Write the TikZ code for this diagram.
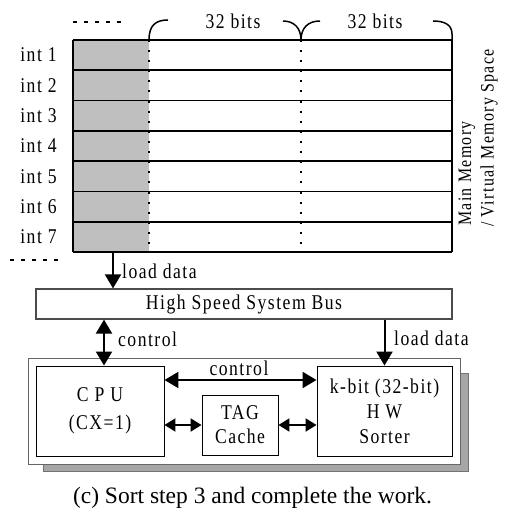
\documentclass[tikz,border=0pt]{standalone}
\usepackage{fontspec}
\setmainfont{Liberation Serif}
\newfontfamily\dfont[FakeStretch=0.84,LetterSpace=7]{Liberation Serif}
\usetikzlibrary{arrows.meta,calc}

\begin{document}
\begin{tikzpicture}[x=1pt,y=-1pt,
  lbl/.style={font=\dfont\fontsize{21}{25}\selectfont, inner sep=0pt},
  vlbl/.style={font=\dfont\fontsize{19}{22}\selectfont, inner sep=0pt, rotate=90, anchor=west},
  box/.style={draw=black, line width=0.9pt, fill=white, align=center, inner sep=0pt,
              font=\dfont\fontsize{21}{25}\selectfont},
  rowline/.style={line width=1.8pt},
  dotline/.style={line width=2pt, dash pattern=on 2pt off 8.1pt},
  brace/.style={line width=1.5pt},
  dashrow/.style={line width=1.2pt, dash pattern=on 4pt off 7pt},
  bigarr/.style={line width=2pt, -{Triangle[length=14pt,width=16pt]}},
  dblarr/.style={line width=2pt, {Triangle[length=14pt,width=16pt]}-{Triangle[length=14pt,width=16pt]}},
  smallarr/.style={line width=2pt, {Triangle[length=11pt,width=13pt]}-{Triangle[length=11pt,width=13pt]}},
]
\useasboundingbox (0,0) rectangle (504,508);

% ---------- memory array ----------
\node[minimum width=379pt, minimum height=212pt, inner sep=0pt, outer sep=0pt] (mem) at (262.5,146) {};
\fill[black!25] (mem.north west) rectangle (149,252);
\foreach \k in {0,...,7}
  \draw[rowline] (73,{40+30.286*\k}) -- (452,{40+30.286*\k});
\draw[rowline] (mem.north west) -- (mem.south west);
\draw[rowline] (mem.north east) -- (mem.south east);
\draw[dotline] (149,40) -- (149,252);
\draw[dotline] (301,40) -- (301,252);

\foreach \i in {1,...,7}
  \node[lbl] (int\i) at (38.5,{40+30.286*(\i-0.5)}) {int \i};

\draw[dashrow] (73,22) -- (121,22);
\draw[dashrow] (10,260) -- (58,260);

% word-width braces
\draw[brace] (149,40) .. controls (149,25) and (156,20) .. (168,20);
\draw[brace] (283,21) .. controls (294,21) and (301,28) .. (301,40);
\draw[brace] (301,40) .. controls (301,28) and (308,21) .. (320,21);
\draw[brace] (433,21) .. controls (445,21) and (452,25) .. (452,34) -- (452,40);
\node[lbl] (w1) at (233,21) {32 bits};
\node[lbl] (w2) at (375,21) {32 bits};

\node[vlbl] (mm1) at (467,226) {Main Memory};
\node[vlbl] (mm2) at (489,227) {/ Virtual Memory Space};

% ---------- bus ----------
\node[box, draw=black!70, line width=1.2pt, minimum width=416pt, minimum height=30pt] (bus) at (244,304) {High Speed System Bus};

% ---------- processing module ----------
\fill[black!35] (43,373) rectangle (468,471);
\draw[black!55, line width=0.8pt] (43,373) rectangle (468,471);
\node[draw=black!60, line width=1pt, fill=white, minimum width=432pt, minimum height=106pt, inner sep=0pt] (sys) at (244,411) {};

\node[box, minimum width=128pt, minimum height=90pt, font=\dfont\fontsize{21}{28}\selectfont] (cpu) at (100,411) {C P U\\(CX=1)};
\node[box, minimum width=76pt, minimum height=60pt, font=\dfont\fontsize{21}{24}\selectfont] (tag) at (240,425) {TAG\\Cache};
\node[box, minimum width=135pt, minimum height=90pt, font=\dfont\fontsize{21}{25}\selectfont] (sorter) at (384.5,411) {k-bit (32-bit)\\H W\\Sorter};

% ---------- connectors ----------
\coordinate (lx) at (113,0);
\coordinate (cx) at (104,0);
\coordinate (cy) at (0,380);
\draw[bigarr] (lx |- mem.south) -- (lx |- bus.north);
\node[lbl, anchor=west] (ld1) at (122,271) {load data};

\draw[dblarr] (cx |- bus.south) -- (cx |- cpu.north);
\node[lbl, anchor=west] (ctl1) at (118,339) {control};

\draw[bigarr] (sorter.north |- bus.south) -- (sorter.north);
\node[lbl, anchor=west] (ld2) at (394,338) {load data};

\draw[dblarr] (cpu.east |- cy) -- (sorter.west |- cy);
\node[lbl] (ctl2) at (239,368) {control};

\draw[smallarr] (cpu.east |- tag.west) -- (tag.west);
\draw[smallarr] (tag.east) -- (sorter.west |- tag.east);

% ---------- caption ----------
\node[font=\fontsize{23.5}{28}\selectfont, anchor=base, inner sep=0pt] (cap) at (252.5,503) {(c) Sort step 3 and complete the work.};
\end{tikzpicture}
\end{document}
